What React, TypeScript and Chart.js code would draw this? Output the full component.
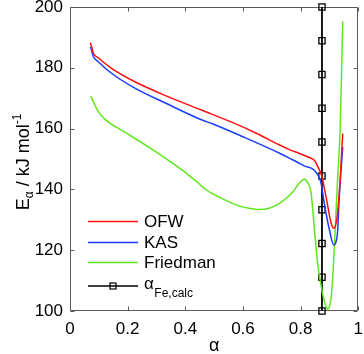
import React, { useEffect, useRef } from "react";
import { Chart, registerables } from "chart.js";

Chart.register(...registerables);

const FONT = "'Liberation Sans', Arial, Helvetica, sans-serif";
const AXIS_COLOR = "#5a5a5a";

// OFW (red)
const alphaOFW = [0.07, 0.0727, 0.081, 0.098, 0.144, 0.225, 0.34, 0.456, 0.571, 0.65, 0.727, 0.761, 0.796, 0.83, 0.848, 0.862, 0.873, 0.888, 0.906, 0.915, 0.922, 0.928, 0.937, 0.946];
const eOFW = [188.2, 187.7, 184.8, 183.3, 179.8, 175.4, 170.5, 166.1, 161.7, 158.3, 154.6, 153.1, 151.8, 150.5, 149.5, 147.0, 144.5, 137.6, 128.8, 127.2, 128.5, 132.1, 143.1, 158.4];

// KAS (blue)
const alphaKAS = [0.07, 0.0727, 0.081, 0.098, 0.144, 0.225, 0.34, 0.456, 0.496, 0.6, 0.727, 0.761, 0.795, 0.819, 0.84, 0.855, 0.864, 0.871, 0.882, 0.9, 0.915, 0.922, 0.928, 0.934, 0.946];
const eKAS = [186.8, 186.4, 183.7, 182.0, 178.2, 173.3, 168.0, 162.9, 161.5, 157.3, 151.9, 150.3, 148.6, 147.5, 146.8, 145.5, 144.0, 142.0, 135.4, 126.6, 121.7, 122.5, 126.0, 137.6, 154.0];

// Friedman (green)
const alphaFR = [0.072, 0.085, 0.098, 0.12, 0.144, 0.173, 0.23, 0.288, 0.35, 0.404, 0.44, 0.473, 0.519, 0.55, 0.588, 0.62, 0.657, 0.69, 0.727, 0.755, 0.773, 0.795, 0.813, 0.826, 0.836, 0.848, 0.859, 0.868, 0.876, 0.886, 0.894, 0.9, 0.906, 0.912, 0.917, 0.928, 0.937, 0.946];
const eFR = [170.7, 168.0, 165.6, 163.2, 161.4, 159.8, 156.5, 153.0, 149.0, 145.3, 142.5, 139.8, 137.4, 136.0, 134.5, 133.8, 133.4, 133.8, 135.4, 137.5, 139.2, 142.0, 143.3, 142.0, 139.0, 126.6, 115.7, 110.0, 105.8, 102.0, 100.6, 101.5, 104.7, 112.0, 121.2, 143.1, 159.5, 195.2];

// alpha_Fe,calc (black vertical line with square markers)
const alphaFe = 0.874;
const eFe = [100, 111.1, 122.2, 133.3, 144.4, 155.6, 166.7, 177.8, 188.9, 200];

const xTicks = [0, 0.2, 0.4, 0.6, 0.8, 1];
const yTicks = [100, 120, 140, 160, 180, 200];

const seriesLabels = ["OFW", "KAS", "Friedman"];
const seriesColors = ["#ff1010", "#1a3cff", "#5ee81c"];

export default function App() {
  const ref = useRef<HTMLCanvasElement>(null);

  useEffect(() => {
    document.body.style.margin = "0";
    const canvas = ref.current;
    if (!canvas) return;

    const pts = (xs: number[], ys: number[]) => xs.map((x, i) => ({ x, y: ys[i] }));

    const framePlugin = {
      id: "frame",
      beforeDatasetsDraw(chart: any) {
        const { ctx, chartArea: a, scales } = chart;
        const xs = scales.x;
        const ys = scales.y;
        ctx.save();
        ctx.strokeStyle = AXIS_COLOR;
        ctx.lineWidth = 1;
        const L = Math.round(a.left) + 0.5;
        const R = Math.round(a.right) - 0.5;
        const T = Math.round(a.top) + 0.5;
        const B = Math.round(a.bottom) - 0.5;
        ctx.beginPath();
        ctx.rect(L, T, R - L, B - T);
        const tl = 4;
        xTicks.forEach((v) => {
          const px = Math.round(xs.getPixelForValue(v)) + 0.5;
          ctx.moveTo(px, B);
          ctx.lineTo(px, B - tl);
          ctx.moveTo(px, T);
          ctx.lineTo(px, T + tl);
        });
        yTicks.forEach((v) => {
          const py = Math.round(ys.getPixelForValue(v)) + 0.5;
          ctx.moveTo(L, py);
          ctx.lineTo(L + tl, py);
          ctx.moveTo(R, py);
          ctx.lineTo(R - tl, py);
        });
        ctx.stroke();
        ctx.restore();
      },
    };

    const annotPlugin = {
      id: "annot",
      afterDraw(chart: any) {
        const { ctx, chartArea: a } = chart;
        ctx.save();
        ctx.fillStyle = "#000";

        // x title
        ctx.font = `18px ${FONT}`;
        ctx.textAlign = "center";
        ctx.textBaseline = "middle";
        ctx.fillText("α", (a.left + a.right) / 2, 346);

        // y title: E_α / kJ mol^-1 (rotated)
        ctx.save();
        const cx = 29; // baseline x
        const cy = (a.top + a.bottom) / 2 + 3;
        ctx.translate(cx, cy);
        ctx.rotate(-Math.PI / 2);
        ctx.textAlign = "left";
        ctx.textBaseline = "alphabetic";
        const big = `18px ${FONT}`;
        const small = `12px ${FONT}`;
        const parts = [
          { t: "E", f: big, dy: 0 },
          { t: "α", f: small, dy: 4 },
          { t: " / kJ mol", f: big, dy: 0 },
          { t: "-1", f: small, dy: -8 },
        ];
        let total = 0;
        parts.forEach((p) => {
          ctx.font = p.f;
          total += ctx.measureText(p.t).width;
        });
        let x0 = -total / 2;
        parts.forEach((p) => {
          ctx.font = p.f;
          ctx.fillText(p.t, x0, p.dy);
          x0 += ctx.measureText(p.t).width;
        });
        ctx.restore();

        // legend
        const lx0 = 88;
        const lx1 = 138;
        const tx = 144;
        const rows = [221.5, 242.5, 262.5];
        ctx.font = `17px ${FONT}`;
        ctx.textAlign = "left";
        ctx.textBaseline = "middle";
        seriesLabels.forEach((lab, i) => {
          ctx.strokeStyle = seriesColors[i];
          ctx.lineWidth = 1.5;
          ctx.beginPath();
          ctx.moveTo(lx0, rows[i]);
          ctx.lineTo(lx1, rows[i]);
          ctx.stroke();
          ctx.fillStyle = "#000";
          ctx.fillText(lab, tx, rows[i] + 1);
        });
        const r4 = 286;
        ctx.strokeStyle = "#000";
        ctx.lineWidth = 1.5;
        ctx.beginPath();
        ctx.moveTo(lx0, r4);
        ctx.lineTo(lx1, r4);
        ctx.stroke();
        ctx.lineWidth = 1.2;
        ctx.strokeRect(113 - 3, r4 - 3, 6, 6);
        ctx.fillStyle = "#000";
        ctx.font = `17px ${FONT}`;
        ctx.textBaseline = "middle";
        ctx.fillText("α", tx, r4 - 2);
        const aw = ctx.measureText("α").width;
        ctx.font = `12px ${FONT}`;
        ctx.fillText("Fe,calc", tx + aw + 0.5, r4 + 8);
        ctx.restore();
      },
    };

    const lineDs = (label: string, data: any, color: string) => ({
      label,
      data,
      borderColor: color,
      backgroundColor: color,
      borderWidth: 1.5,
      pointRadius: 0,
      cubicInterpolationMode: "monotone" as const,
      clip: false as any,
    });

    const chart = new Chart(canvas, {
      type: "line",
      data: {
        datasets: [
          lineDs("OFW", pts(alphaOFW, eOFW), seriesColors[0]),
          lineDs("KAS", pts(alphaKAS, eKAS), seriesColors[1]),
          lineDs("Friedman", pts(alphaFR, eFR), seriesColors[2]),
          {
            label: "αFe,calc",
            data: eFe.map((y) => ({ x: alphaFe, y })),
            borderColor: "#000",
            backgroundColor: "rgba(0,0,0,0)",
            borderWidth: 1.8,
            pointStyle: "rect",
            pointRadius: 4.4,
            pointBorderWidth: 1.3,
            pointBorderColor: "#000",
            pointBackgroundColor: "rgba(0,0,0,0)",
            clip: false as any,
          },
        ],
      },
      options: {
        responsive: false,
        devicePixelRatio: 1,
        animation: false,
        parsing: true,
        layout: { padding: { top: 7, right: 5, left: 0, bottom: 0 } },
        plugins: {
          legend: { display: false },
          tooltip: { enabled: false },
        },
        scales: {
          x: {
            type: "linear",
            min: 0,
            max: 1,
            grid: { display: false, drawTicks: false },
            border: { display: false },
            afterBuildTicks: (s: any) => {
              s.ticks = xTicks.map((v) => ({ value: v }));
            },
            afterFit: (s: any) => {
              s.height = 43;
              s.paddingLeft = 0;
              s.paddingRight = 0;
            },
            ticks: {
              color: "#000",
              font: { family: FONT, size: 17 },
              padding: 8,
              maxRotation: 0,
              autoSkip: false,
              callback: (v: any) => String(v),
            },
          },
          y: {
            type: "linear",
            min: 100,
            max: 200,
            grid: { display: false, drawTicks: false },
            border: { display: false },
            afterBuildTicks: (s: any) => {
              s.ticks = yTicks.map((v) => ({ value: v }));
            },
            afterFit: (s: any) => {
              s.width = 70;
              s.paddingTop = 0;
              s.paddingBottom = 0;
            },
            ticks: {
              color: "#000",
              font: { family: FONT, size: 17 },
              padding: 7,
              autoSkip: false,
              callback: (v: any) => String(v),
            },
          },
        },
      },
      plugins: [framePlugin, annotPlugin],
    });

    return () => chart.destroy();
  }, []);

  return (
    <div style={{ width: 364, height: 354, background: "#fff" }}>
      <canvas ref={ref} width={364} height={354} style={{ display: "block" }} />
    </div>
  );
}
